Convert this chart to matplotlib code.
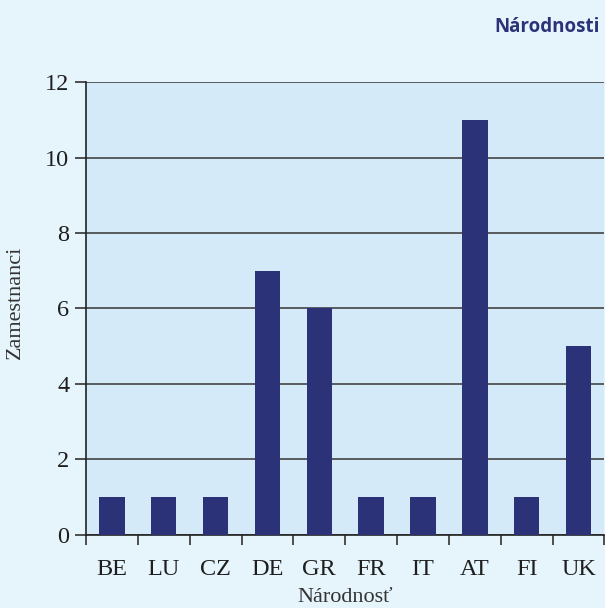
import matplotlib
matplotlib.use("Agg")
import matplotlib.pyplot as plt
import numpy as np

categories = ["BE", "LU", "CZ", "DE", "GR", "FR", "IT", "AT", "FI", "UK"]
values = [1, 1, 1, 7, 6, 1, 1, 11, 1, 5]
yticks = [0, 2, 4, 6, 8, 10, 12]

fig = plt.figure(figsize=(6.05, 6.08), dpi=100)
fig.patch.set_facecolor("#e6f4fc")
ax = fig.add_axes([0.1421, 0.1201, 0.857, 0.745])
ax.set_facecolor("#d5eaf8")

x = np.arange(len(categories))
ax.bar(x, values, width=0.49, color="#2b3278", zorder=3)

ax.set_xlim(-0.5, len(categories) - 0.5)
ax.set_ylim(0, 12)
ax.set_yticks(yticks)
ax.set_yticklabels([str(v) for v in yticks], fontsize=17.5, family="Liberation Serif", color="#1e1e1e")
ax.set_xticks(x)
ax.set_xticklabels(categories, fontsize=17.5, family="Liberation Serif", color="#1e1e1e")
ax.tick_params(axis="x", length=0, pad=17)
ax.set_xticks(np.arange(-0.5, len(categories) + 0.5, 1), minor=True)
ax.tick_params(axis="x", which="minor", length=7, width=1.2, color="#333333")
ax.tick_params(axis="y", length=8, width=1.2, color="#333333", pad=4)
ax.grid(axis="y", color="#444444", linewidth=1.2, zorder=1)

for s in ["top", "right"]:
    ax.spines[s].set_visible(False)
ax.spines["left"].set_color("#222222")
ax.spines["left"].set_linewidth(1.2)
ax.spines["bottom"].set_color("#222222")
ax.spines["bottom"].set_linewidth(1.2)

ax.set_ylabel("Zamestnanci", fontsize=16, family="Liberation Serif", color="#333333", labelpad=15)
ax.yaxis.set_label_coords(-0.142 + 13 / 518.5, 0.514)
ax.set_xlabel("Národnosť", fontsize=16, family="Liberation Serif", color="#333333", labelpad=6)

fig.text(0.992, 0.955, "Národnosti", ha="right", va="center", fontsize=13.5,
         fontweight="bold", family="Open Sans", color="#2b3278")

fig.savefig("out.png", dpi=100, facecolor=fig.get_facecolor())
